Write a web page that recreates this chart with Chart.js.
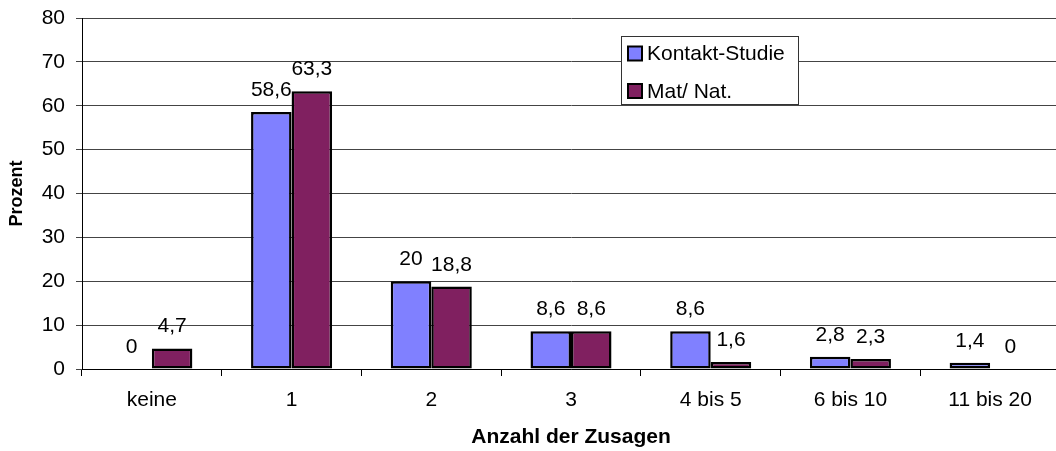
<!DOCTYPE html>
<html>
<head>
<meta charset="utf-8">
<script src="https://cdn.jsdelivr.net/npm/chart.js@4/dist/chart.umd.min.js"></script>
<style>
  html, body { margin: 0; padding: 0; background: #fff; overflow: hidden; }
  #wrap { position: relative; width: 1060px; height: 451px; }
</style>
</head>
<body>
<div id="wrap"><canvas id="chart"></canvas></div>
<script>
const categories = ['keine', '1', '2', '3', '4 bis 5', '6 bis 10', '11 bis 20'];
const kontaktStudie = [0, 58.6, 20, 8.6, 8.6, 2.8, 1.4];
const matNat = [4.7, 63.3, 18.8, 8.6, 1.6, 2.3, 0];
const seriesNames = ['Kontakt-Studie', 'Mat/ Nat.'];

const FONT = '"Liberation Sans", Arial, sans-serif';

// values above each bar, german decimal comma
const valueLabels = {
  id: 'valueLabels',
  afterDatasetsDraw(chart) {
    const ctx = chart.ctx;
    ctx.save();
    ctx.font = '21px ' + FONT;
    ctx.fillStyle = '#000';
    ctx.textAlign = 'center';
    ctx.textBaseline = 'alphabetic';
    chart.data.datasets.forEach((ds, i) => {
      chart.getDatasetMeta(i).data.forEach((bar, j) => {
        ctx.fillText(String(ds.data[j]).replace('.', ','), bar.x, bar.y - 16);
      });
    });
    ctx.restore();
  }
};

// boxed legend sitting inside the plot
const boxLegend = {
  id: 'boxLegend',
  afterDraw(chart) {
    const ctx = chart.ctx;
    const x = 621, y = 36, w = 177, h = 68;
    ctx.save();
    ctx.fillStyle = '#fff';
    ctx.fillRect(x, y, w, h);
    ctx.strokeStyle = '#333';
    ctx.lineWidth = 1;
    ctx.strokeRect(x + 0.5, y + 0.5, w, h);
    ctx.font = '21px ' + FONT;
    ctx.textBaseline = 'middle';
    ctx.textAlign = 'left';
    const rows = [53.5, 91];
    chart.data.datasets.forEach((ds, i) => {
      const cy = rows[i];
      ctx.fillStyle = ds.backgroundColor;
      ctx.fillRect(628, cy - 7, 14, 14);
      ctx.strokeStyle = '#000';
      ctx.lineWidth = 2;
      ctx.strokeRect(628, cy - 7, 14, 14);
      ctx.fillStyle = '#000';
      ctx.fillText(ds.label, 647, cy + 1);
    });
    ctx.restore();
  }
};

new Chart(document.getElementById('chart'), {
  type: 'bar',
  data: {
    labels: categories,
    datasets: [
      {
        label: seriesNames[0],
        data: kontaktStudie,
        backgroundColor: '#8080FF',
        borderColor: '#000',
        borderWidth: 2.5,
        borderSkipped: false,
        barPercentage: 1,
        categoryPercentage: 0.58
      },
      {
        label: seriesNames[1],
        data: matNat,
        backgroundColor: '#802060',
        borderColor: '#000',
        borderWidth: 2.5,
        borderSkipped: false,
        barPercentage: 1,
        categoryPercentage: 0.58
      }
    ]
  },
  options: {
    responsive: true,
    maintainAspectRatio: false,
    animation: false,
    layout: { padding: { top: 18, left: 0, right: 0, bottom: 0 } },
    plugins: {
      legend: { display: false },
      tooltip: { enabled: false }
    },
    scales: {
      x: {
        grid: {
          drawOnChartArea: false,
          drawTicks: true,
          tickLength: 7,
          offset: true,
          color: '#000'
        },
        border: { color: '#000', width: 1 },
        ticks: {
          color: '#000',
          font: { family: FONT, size: 21 },
          padding: 12,
          maxRotation: 0,
          autoSkip: false
        },
        title: {
          display: true,
          text: 'Anzahl der Zusagen',
          color: '#000',
          font: { family: FONT, size: 21, weight: 'bold' },
          padding: { top: 0, bottom: 1 }
        },
        afterFit(scale) {
          scale.height = 82;
          scale.paddingLeft = 0;
          scale.paddingRight = 0;
        }
      },
      y: {
        min: 0,
        max: 80,
        ticks: {
          stepSize: 10,
          color: '#000',
          font: { family: FONT, size: 21 },
          padding: 11
        },
        grid: { color: '#444', tickLength: 6 },
        border: { color: '#000', width: 1 },
        title: {
          display: true,
          text: 'Prozent',
          color: '#000',
          font: { family: FONT, size: 18, weight: 'bold' },
          padding: { top: 6, bottom: 0 }
        },
        afterFit(scale) {
          scale.width = 82;
          scale.paddingTop = 0;
          scale.paddingBottom = 0;
        }
      }
    }
  },
  plugins: [valueLabels, boxLegend]
});
</script>
</body>
</html>
